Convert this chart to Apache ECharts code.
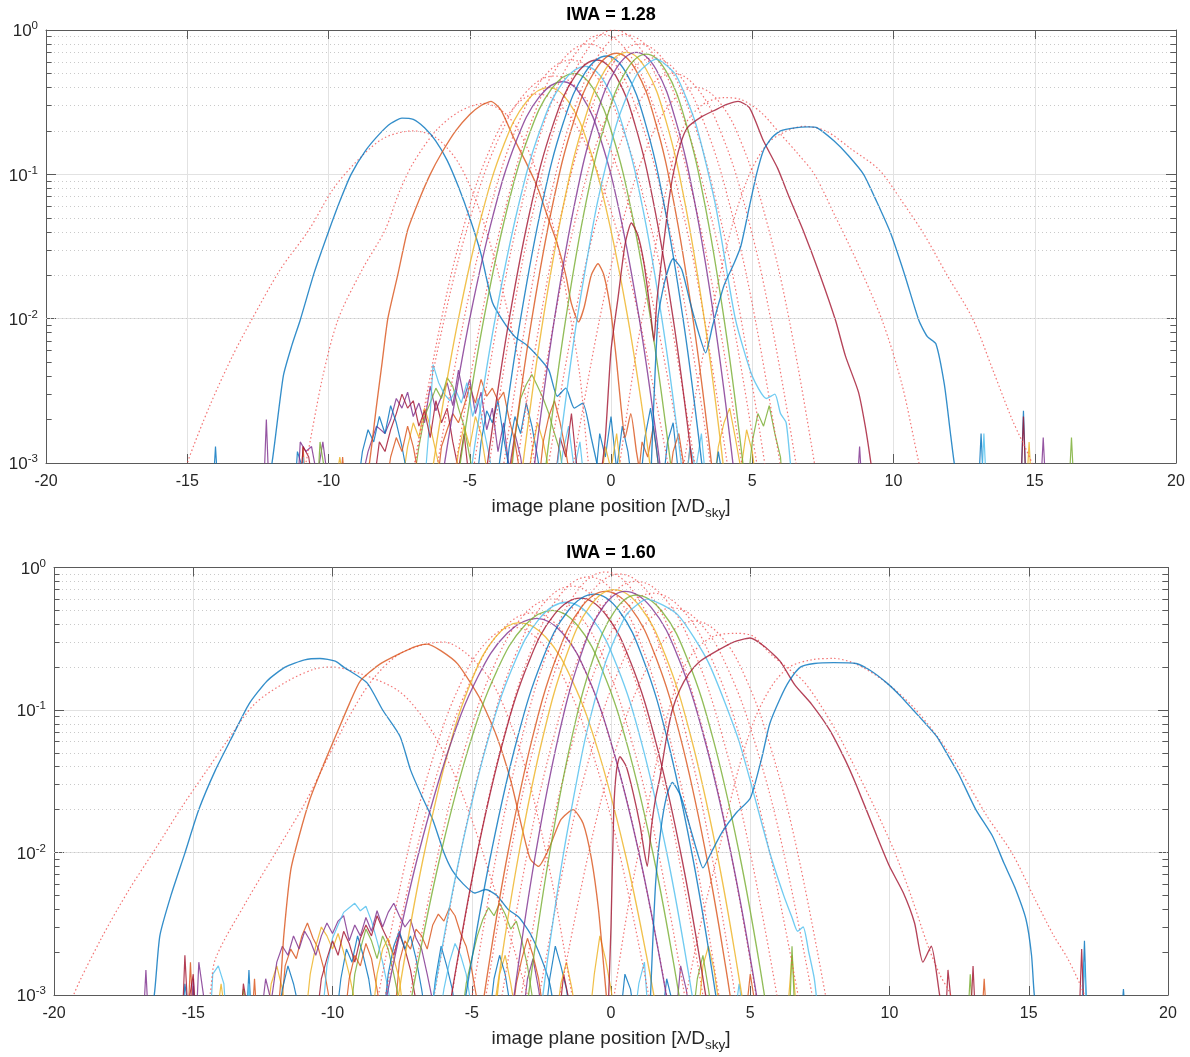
<!DOCTYPE html>
<html>
<head>
<meta charset="utf-8">
<script src="https://cdn.jsdelivr.net/npm/echarts@6/dist/echarts.min.js"></script>
<style>
  html, body { margin: 0; padding: 0; background: #ffffff; }
  #chart { width: 1190px; height: 1057px; }
</style>
</head>
<body>
<div id="chart"></div>
<script>
// ---------------------------------------------------------------
// Axis ranges and labels
// ---------------------------------------------------------------
const xRange = [-20, 20];
const yRange = [0.001, 1];
const yMinorTicks = [0.002, 0.003, 0.004, 0.005, 0.006, 0.007, 0.008, 0.009,
                     0.02, 0.03, 0.04, 0.05, 0.06, 0.07, 0.08, 0.09,
                     0.2, 0.3, 0.4, 0.5, 0.6, 0.7, 0.8, 0.9];
const panelTitles = ['IWA = 1.28', 'IWA = 1.60'];
const xAxisTitle = ['image plane position [λ/D', 'sky', ']'];

// ---------------------------------------------------------------
// IWA = 1.28 : measured PSF cuts (solid), one per source offset
// ---------------------------------------------------------------
const iwa128Solid = [
  [[-12.2,0.0007],[-12.0,0.001],[-11.6,0.004],[-11.3,0.0065],[-11.0,0.0098],[-10.5,0.021],[-10.0,0.04],[-9.6,0.065],[-9.2,0.1],[-8.7,0.145],[-8.2,0.19],[-7.8,0.225],[-7.4,0.245],[-7.0,0.24],[-6.6,0.21],[-6.2,0.17],[-5.8,0.125],[-5.4,0.082],[-5.0,0.05],[-4.6,0.028],[-4.2,0.013],[-3.8,0.0095],[-3.4,0.0075],[-3.0,0.0066],[-2.6,0.0055],[-2.2,0.0044],[-1.9,0.0029],[-1.6,0.0033],[-1.3,0.0024],[-1.0,0.0026],[-0.7,0.0015],[-0.5,0.001],[-0.3,0.0007]],
  [[-8.7,0.0007],[-8.55,0.001],[-8.3,0.0025],[-8.1,0.005],[-7.9,0.01],[-7.55,0.02],[-7.2,0.041],[-6.8,0.066],[-6.4,0.1],[-6.0,0.14],[-5.5,0.2],[-5.0,0.26],[-4.6,0.3],[-4.25,0.32],[-3.9,0.28],[-3.45,0.18],[-3.0,0.12],[-2.6,0.081],[-2.2,0.048],[-1.9,0.033],[-1.6,0.02],[-1.4,0.0127],[-1.15,0.0095],[-0.95,0.012],[-0.7,0.02],[-0.46,0.024],[-0.25,0.02],[0.0,0.011],[0.2,0.005],[0.35,0.0025],[0.5,0.0015],[0.7,0.0022],[0.9,0.0012],[1.1,0.0007]],
  [[-6.52,0.00048],[-6.04,0.002],[-5.4,0.01],[-4.6,0.05],[-3.8,0.159],[-3.0,0.318],[-2.2,0.40],[-1.5,0.318],[-0.8,0.159],[-0.1,0.05],[0.6,0.01],[1.16,0.002],[1.58,0.00048]],
  [[-6.16,0.00045],[-5.66,0.0019],[-5.0,0.01],[-4.175,0.052],[-3.35,0.171],[-2.525,0.347],[-1.7,0.44],[-1.025,0.347],[-0.35,0.171],[0.325,0.052],[1.0,0.01],[1.54,0.0019],[1.945,0.00045]],
  [[-5.62,0.0004],[-5.14,0.0018],[-4.5,0.01],[-3.7,0.0553],[-2.9,0.188],[-2.1,0.392],[-1.3,0.5],[-0.625,0.392],[0.05,0.188],[0.725,0.0553],[1.4,0.01],[1.94,0.0018],[2.345,0.0004]],
  [[-5.22,0.00036],[-4.74,0.0017],[-4.1,0.01],[-3.3,0.058],[-2.5,0.205],[-1.7,0.435],[-0.9,0.56],[-0.225,0.435],[0.45,0.205],[1.125,0.058],[1.8,0.01],[2.34,0.0017],[2.745,0.00036]],
  [[-4.685,0.00034],[-4.22,0.00163],[-3.6,0.01],[-2.825,0.0608],[-2.05,0.221],[-1.275,0.479],[-0.5,0.62],[0.175,0.479],[0.85,0.221],[1.525,0.0608],[2.2,0.01],[2.74,0.00163],[3.145,0.00034]],
  [[-4.27,0.00032],[-3.81,0.00158],[-3.2,0.01],[-2.4375,0.0625],[-1.675,0.232],[-0.9125,0.508],[-0.15,0.66],[0.525,0.508],[1.2,0.232],[1.875,0.0625],[2.55,0.01],[3.09,0.00158],[3.495,0.00032]],
  [[-3.85,0.0003],[-3.4,0.00155],[-2.8,0.01],[-2.05,0.0638],[-1.3,0.239],[-0.55,0.53],[0.2,0.69],[0.875,0.53],[1.55,0.239],[2.225,0.0638],[2.9,0.01],[3.44,0.00155],[3.845,0.0003]],
  [[-3.43,0.0003],[-2.99,0.00154],[-2.4,0.01],[-1.6625,0.0641],[-0.925,0.242],[-0.1875,0.537],[0.55,0.70],[1.2375,0.537],[1.925,0.242],[2.6125,0.0641],[3.3,0.01],[3.85,0.00154],[4.26,0.0003]],
  [[-3.015,0.0003],[-2.58,0.00154],[-2.0,0.01],[-1.275,0.0641],[-0.55,0.242],[0.175,0.537],[0.9,0.70],[1.5875,0.537],[2.275,0.242],[2.9625,0.0641],[3.65,0.01],[4.2,0.00154],[4.61,0.0003]],
  [[-2.6,0.0003],[-2.17,0.00156],[-1.6,0.01],[-0.8875,0.0634],[-0.175,0.237],[0.5375,0.523],[1.25,0.68],[1.9375,0.523],[2.625,0.237],[3.3125,0.0634],[4.0,0.01],[4.55,0.00156],[4.96,0.0003]],
  [[-2.18,0.00034],[-1.76,0.0016],[-1.2,0.01],[-0.5,0.0612],[0.2,0.224],[0.9,0.486],[1.6,0.63],[2.3,0.486],[3.0,0.224],[3.7,0.0612],[4.4,0.01],[5.0,0.004],[5.5,0.0028],[5.8,0.003],[6.0,0.0022],[6.2,0.0019],[6.35,0.001],[6.45,0.0007]],
  [[-0.4,0.0007],[-0.2,0.0015],[0.0,0.006],[0.25,0.014],[0.5,0.033],[0.72,0.046],[0.95,0.038],[1.17,0.024],[1.4,0.011],[1.52,0.007],[1.62,0.013],[1.75,0.022],[1.9,0.038],[2.05,0.066],[2.2,0.1],[2.45,0.16],[2.7,0.21],[3.2,0.25],[3.7,0.28],[4.1,0.305],[4.5,0.32],[4.9,0.29],[5.4,0.17],[5.9,0.11],[6.3,0.07],[6.8,0.041],[7.4,0.02],[7.95,0.0097],[8.3,0.0055],[8.76,0.0031],[9.0,0.0018],[9.2,0.001],[9.3,0.0007]],
  [[1.4,0.0007],[1.66,0.01],[1.9,0.018],[2.2,0.026],[2.5,0.022],[2.8,0.013],[3.1,0.008],[3.35,0.0058],[3.6,0.009],[4.0,0.017],[4.35,0.024],[4.6,0.032],[4.9,0.06],[5.15,0.1],[5.4,0.147],[5.7,0.18],[6.0,0.2],[6.5,0.21],[7.0,0.213],[7.3,0.21],[7.9,0.17],[8.4,0.135],[8.94,0.1],[9.4,0.065],[9.9,0.039],[10.4,0.02],[10.9,0.0097],[11.2,0.0075],[11.5,0.0067],[11.8,0.0035],[12.0,0.0017],[12.15,0.001],[12.3,0.0007]]
];

// IWA = 1.28 : model PSF cuts (dotted)
const iwa128Dotted = [
  [[-15.2,0.0007],[-15.0,0.001],[-14.2,0.0025],[-13.4,0.0055],[-12.7,0.01],[-11.7,0.022],[-10.7,0.041],[-9.8,0.081],[-8.8,0.135],[-8.0,0.18],[-7.0,0.2],[-6.2,0.18],[-5.4,0.12],[-4.7,0.06],[-4.1,0.025],[-3.6,0.01],[-3.1,0.0035],[-2.7,0.001],[-2.5,0.0006]],
  [[-11.0,0.0007],[-10.8,0.001],[-10.2,0.004],[-9.65,0.01],[-8.8,0.022],[-8.0,0.041],[-7.5,0.075],[-7.0,0.12],[-6.2,0.2],[-5.4,0.27],[-4.5,0.31],[-3.8,0.27],[-3.2,0.19],[-2.6,0.1],[-2.0,0.04],[-1.5,0.012],[-1.1,0.004],[-0.8,0.001],[-0.6,0.0006]],
  [[-7.02,0.00084],[-6.0,0.01],[-5.15,0.048],[-4.3,0.147],[-3.45,0.288],[-2.6,0.36],[-1.7,0.288],[-0.8,0.147],[0.1,0.048],[1.0,0.01],[2.08,0.00084]],
  [[-7.07,0.0007],[-5.9,0.01],[-4.925,0.0543],[-3.95,0.182],[-2.975,0.377],[-2.0,0.48],[-1.1,0.377],[-0.2,0.182],[0.7,0.0543],[1.6,0.01],[2.68,0.0007]],
  [[-6.34,0.00058],[-5.2,0.01],[-4.25,0.0608],[-3.3,0.221],[-2.35,0.479],[-1.4,0.62],[-0.525,0.479],[0.35,0.221],[1.225,0.0608],[2.1,0.01],[3.15,0.00058]],
  [[-5.74,0.00049],[-4.6,0.01],[-3.65,0.068],[-2.7,0.267],[-1.75,0.608],[-0.8,0.80],[0.075,0.608],[0.95,0.267],[1.825,0.068],[2.7,0.01],[3.75,0.00049]],
  [[-5.11,0.00044],[-4.0,0.01],[-3.075,0.0726],[-2.15,0.299],[-1.225,0.70],[-0.3,0.93],[0.6,0.70],[1.5,0.299],[2.4,0.0726],[3.3,0.01],[4.38,0.00044]],
  [[-4.58,0.00042],[-3.5,0.01],[-2.6,0.075],[-1.7,0.316],[-0.8,0.75],[0.1,1.0],[1.025,0.75],[1.95,0.316],[2.875,0.075],[3.8,0.01],[4.91,0.00042]],
  [[-4.05,0.00044],[-3.0,0.01],[-2.125,0.0726],[-1.25,0.299],[-0.375,0.70],[0.5,0.93],[1.45,0.70],[2.4,0.299],[3.35,0.0726],[4.3,0.01],[5.44,0.00044]],
  [[-3.55,0.00049],[-2.5,0.01],[-1.625,0.068],[-0.75,0.267],[0.125,0.608],[1.0,0.80],[1.9,0.608],[2.8,0.267],[3.7,0.068],[4.6,0.01],[5.68,0.00049]],
  [[-3.05,0.00057],[-2.0,0.01],[-1.125,0.0617],[-0.25,0.226],[0.625,0.493],[1.5,0.64],[2.4,0.493],[3.3,0.226],[4.2,0.0617],[5.1,0.01],[6.18,0.00057]],
  [[-2.35,0.00067],[-1.3,0.01],[-0.425,0.0553],[0.45,0.188],[1.325,0.392],[2.2,0.50],[3.06,0.392],[3.925,0.188],[4.79,0.0553],[5.65,0.01],[6.69,0.00067]],
  [[-1.42,0.00078],[-0.4,0.01],[0.45,0.050],[1.3,0.159],[2.15,0.318],[3.0,0.40],[3.825,0.318],[4.65,0.159],[5.475,0.050],[6.3,0.01],[7.29,0.00078]],
  [[0.2,0.0007],[0.9,0.006],[1.4,0.02],[1.9,0.07],[2.5,0.2],[3.2,0.3],[4.0,0.34],[4.6,0.33],[5.3,0.27],[6.0,0.19],[6.6,0.14],[7.2,0.1],[7.9,0.053],[8.7,0.025],[9.6,0.0097],[10.3,0.0035],[10.9,0.001],[11.1,0.0007]],
  [[2.5,0.0008],[3.0,0.003],[3.6,0.012],[4.3,0.045],[4.9,0.1],[5.5,0.16],[6.0,0.19],[6.8,0.215],[7.6,0.2],[8.5,0.15],[9.5,0.107],[10.3,0.065],[11.06,0.039],[11.9,0.02],[12.8,0.01],[13.5,0.0045],[14.2,0.002],[14.9,0.001],[15.1,0.0007]]
];

// IWA = 1.28 : residual speckle floor, traces take the line colours in order
const iwa128Floor = [
  [[-14.1,0.0006],[-14.0,0.0013],[-13.9,0.0006],[-11.2,0.0006],[-11.1,0.0012],[-10.9,0.0009],[-10.7,0.0006],[-3.8,0.0006],[-3.6,0.0013],[-3.4,0.0021],[-3.2,0.0016],[-3.0,0.0026],[-2.8,0.0018],[-2.6,0.0011],[-2.4,0.0006],[-0.6,0.0006],[-0.4,0.0016],[-0.2,0.0011],[0.0,0.0021],[0.2,0.0009],[0.4,0.0018],[0.6,0.0012],[0.8,0.0006],[1.8,0.0006],[2.0,0.0014],[2.2,0.0019],[2.4,0.0008],[2.6,0.0006],[13.0,0.0006],[13.1,0.0016],[13.2,0.0006],[14.5,0.0006],[14.6,0.0023],[14.7,0.0006]],
  [[-11.0,0.0006],[-10.9,0.0013],[-10.8,0.0006],[-9.6,0.0006],[-9.5,0.0011],[-9.4,0.0006],[-6.2,0.0006],[-6.0,0.0013],[-5.8,0.0017],[-5.6,0.0022],[-5.4,0.0019],[-5.2,0.0025],[-5.0,0.0034],[-4.8,0.0026],[-4.6,0.0038],[-4.4,0.0029],[-4.2,0.0033],[-4.0,0.0027],[-3.8,0.0031],[-3.6,0.002],[-3.4,0.0014],[-3.2,0.0008],[0.9,0.0006],[1.1,0.0014],[1.3,0.0011],[1.5,0.0018],[1.7,0.0009],[1.9,0.0006],[2.6,0.0006],[2.8,0.0013],[3.0,0.0006]],
  [[-9.8,0.0006],[-9.6,0.0011],[-9.4,0.0006],[-7.4,0.0007],[-7.2,0.0013],[-7.0,0.0019],[-6.8,0.0015],[-6.6,0.0024],[-6.4,0.0018],[-6.2,0.0012],[-6.0,0.0008],[-3.0,0.0006],[-2.8,0.0012],[-2.6,0.0019],[-2.4,0.0014],[-2.2,0.0009],[-2.0,0.0006],[3.6,0.0006],[3.8,0.0013],[4.0,0.0019],[4.2,0.0024],[4.4,0.0015],[4.6,0.0009],[4.8,0.0017],[5.0,0.0012],[5.2,0.0006],[14.7,0.0006],[14.8,0.0014],[14.9,0.0006]],
  [[-12.3,0.0006],[-12.2,0.002],[-12.1,0.0006],[-11.1,0.0006],[-11.0,0.0014],[-10.8,0.0012],[-10.6,0.0013],[-10.4,0.0008],[-10.2,0.0014],[-10.0,0.0007],[-8.8,0.0008],[-8.6,0.0012],[-8.3,0.0018],[-8.0,0.0016],[-7.8,0.002],[-7.6,0.0028],[-7.4,0.0024],[-7.2,0.0031],[-7.0,0.0021],[-6.8,0.0026],[-6.6,0.0019],[-6.4,0.0034],[-6.2,0.0023],[-6.0,0.0029],[-5.8,0.0036],[-5.6,0.0025],[-5.4,0.0044],[-5.2,0.0028],[-5.0,0.0038],[-4.8,0.0022],[-4.6,0.0031],[-4.4,0.0017],[-4.2,0.0024],[-4.0,0.0012],[-3.8,0.0019],[-3.6,0.0009],[-3.4,0.0016],[-3.2,0.0011],[-3.0,0.0006],[8.7,0.0006],[8.8,0.0013],[8.9,0.0006],[15.2,0.0006],[15.3,0.0015],[15.4,0.0006]],
  [[-10.4,0.0006],[-10.3,0.0014],[-10.1,0.0008],[-9.8,0.0006],[-7.0,0.0007],[-6.8,0.0013],[-6.6,0.0021],[-6.4,0.0026],[-6.2,0.0033],[-6.0,0.0028],[-5.8,0.0039],[-5.6,0.0034],[-5.4,0.0024],[-5.2,0.0018],[-5.0,0.0011],[-4.8,0.0007],[-3.6,0.0006],[-3.4,0.0015],[-3.2,0.0028],[-3.0,0.0035],[-2.8,0.0041],[-2.6,0.0034],[-2.4,0.0028],[-2.2,0.0022],[-2.0,0.0016],[-1.8,0.0012],[-1.6,0.0006],[4.8,0.0006],[5.0,0.0014],[5.2,0.0022],[5.4,0.0018],[5.6,0.0025],[5.8,0.0016],[6.0,0.0011],[6.1,0.0006],[16.2,0.0006],[16.3,0.0015],[16.4,0.0006]],
  [[-11.0,0.0006],[-10.9,0.0011],[-10.8,0.0006],[-6.6,0.0007],[-6.4,0.0022],[-6.3,0.0048],[-6.1,0.0036],[-5.9,0.003],[-5.7,0.0027],[-5.5,0.0032],[-5.3,0.0026],[-5.1,0.0036],[-4.9,0.0021],[-4.7,0.0028],[-4.5,0.0017],[-4.3,0.0011],[-4.1,0.0006],[-1.9,0.0006],[-1.7,0.0012],[-1.5,0.0018],[-1.3,0.0009],[-1.1,0.0014],[-0.9,0.0006],[2.6,0.0006],[2.8,0.0013],[3.0,0.0009],[3.2,0.0016],[3.4,0.0006],[13.1,0.0006],[13.2,0.0016],[13.3,0.0006]],
  [[-11.0,0.0006],[-10.9,0.0013],[-10.7,0.0011],[-10.5,0.0006],[-8.4,0.0007],[-8.2,0.0014],[-8.0,0.0012],[-7.8,0.0017],[-7.6,0.0022],[-7.4,0.003],[-7.2,0.0024],[-7.0,0.0027],[-6.8,0.0018],[-6.6,0.0023],[-6.4,0.0015],[-6.2,0.0027],[-6.0,0.0019],[-5.8,0.0024],[-5.6,0.0014],[-5.4,0.0009],[-5.2,0.0016],[-5.0,0.0007],[-2.0,0.0007],[-1.8,0.0015],[-1.6,0.0011],[-1.4,0.0022],[-1.2,0.0009],[-1.0,0.0006],[14.5,0.0006],[14.6,0.0021],[14.7,0.0006]],
  [[-9.0,0.0006],[-8.8,0.0012],[-8.6,0.0017],[-8.4,0.0014],[-8.2,0.0021],[-8.0,0.0016],[-7.8,0.0025],[-7.6,0.0019],[-7.4,0.0013],[-7.2,0.0008],[-4.8,0.0006],[-4.6,0.0014],[-4.4,0.0023],[-4.2,0.0019],[-4.0,0.0027],[-3.8,0.0015],[-3.6,0.0009],[-3.4,0.0006],[1.0,0.0006],[1.2,0.0015],[1.4,0.0024],[1.6,0.0013],[1.8,0.0006],[3.6,0.0006],[3.8,0.0012],[4.0,0.0007]],
  [[-8.0,0.0006],[-7.8,0.0011],[-7.6,0.0015],[-7.4,0.0012],[-7.2,0.0018],[-7.0,0.0013],[-6.8,0.0008],[-2.6,0.0006],[-2.4,0.0014],[-2.2,0.0021],[-2.0,0.0027],[-1.8,0.0019],[-1.6,0.0012],[-1.4,0.0007],[2.0,0.0006],[2.2,0.0012],[2.4,0.0016],[2.6,0.0009],[2.8,0.0006]],
  [[-5.6,0.0006],[-5.4,0.0012],[-5.2,0.0018],[-5.0,0.0013],[-4.8,0.0021],[-4.6,0.0016],[-4.4,0.0009],[-4.2,0.0006],[-0.4,0.0006],[-0.2,0.0013],[0.0,0.0009],[0.2,0.0016],[0.4,0.0007]]
];

// ---------------------------------------------------------------
// IWA = 1.60 : measured PSF cuts (solid)
// ---------------------------------------------------------------
const iwa160Solid = [
  [[-16.6,0.0007],[-16.4,0.001],[-16.2,0.0026],[-15.8,0.005],[-15.3,0.0099],[-14.8,0.02],[-14.2,0.038],[-13.6,0.065],[-13.0,0.11],[-12.35,0.16],[-11.7,0.2],[-11.0,0.225],[-10.45,0.23],[-9.9,0.22],[-9.6,0.2],[-8.76,0.155],[-8.2,0.1],[-7.57,0.065],[-7.2,0.038],[-6.8,0.025],[-6.4,0.017],[-6.0,0.01],[-5.7,0.0075],[-5.3,0.006],[-4.9,0.0052],[-4.5,0.0055],[-4.1,0.005],[-3.7,0.004],[-3.3,0.0035],[-2.9,0.0027],[-2.5,0.0018],[-2.2,0.0012],[-2.0,0.0007]],
  [[-12.1,0.0007],[-11.9,0.001],[-11.75,0.0026],[-11.5,0.0075],[-11.2,0.013],[-10.8,0.024],[-10.4,0.038],[-9.8,0.072],[-9.4,0.11],[-9.0,0.16],[-8.3,0.21],[-7.57,0.25],[-7.0,0.28],[-6.6,0.29],[-6.1,0.26],[-5.5,0.21],[-4.7,0.12],[-4.1,0.065],[-3.6,0.032],[-3.2,0.015],[-2.9,0.009],[-2.6,0.008],[-2.2,0.011],[-1.8,0.017],[-1.36,0.02],[-1.0,0.016],[-0.7,0.009],[-0.45,0.004],[-0.25,0.0015],[-0.1,0.0007]],
  [[-7.89,0.00047],[-7.38,0.00195],[-6.7,0.01],[-5.85,0.0508],[-5.0,0.162],[-4.15,0.325],[-3.3,0.41],[-2.35,0.325],[-1.4,0.162],[-0.45,0.0508],[0.5,0.01],[1.26,0.00195],[1.83,0.00047]],
  [[-8.38,0.00045],[-7.75,0.0019],[-6.9,0.01],[-5.84,0.052],[-4.78,0.171],[-3.72,0.347],[-2.66,0.44],[-1.745,0.347],[-0.83,0.171],[0.085,0.052],[1.0,0.01],[1.73,0.0019],[2.28,0.00045]],
  [[-7.5,0.0004],[-6.9,0.0018],[-6.1,0.01],[-5.1,0.0553],[-4.1,0.188],[-3.1,0.392],[-2.1,0.5],[-1.2,0.392],[-0.3,0.188],[0.6,0.0553],[1.5,0.01],[2.22,0.0018],[2.76,0.0004]],
  [[-6.73,0.00036],[-6.16,0.00169],[-5.4,0.01],[-4.45,0.0586],[-3.5,0.207],[-2.55,0.443],[-1.6,0.57],[-0.7,0.443],[0.2,0.207],[1.1,0.0586],[2.0,0.01],[2.72,0.00169],[3.26,0.00036]],
  [[-6.1,0.00034],[-5.54,0.00164],[-4.8,0.01],[-3.875,0.0604],[-2.95,0.218],[-2.025,0.471],[-1.1,0.61],[-0.2,0.471],[0.7,0.218],[1.6,0.0604],[2.5,0.01],[3.22,0.00164],[3.76,0.00034]],
  [[-5.6,0.00032],[-5.04,0.00159],[-4.3,0.01],[-3.375,0.0621],[-2.45,0.229],[-1.525,0.501],[-0.6,0.65],[0.275,0.501],[1.15,0.229],[2.025,0.0621],[2.9,0.01],[3.6,0.00159],[4.13,0.00032]],
  [[-4.93,0.0003],[-4.4,0.00156],[-3.7,0.01],[-2.825,0.0634],[-1.95,0.237],[-1.075,0.523],[-0.2,0.68],[0.7,0.523],[1.6,0.237],[2.5,0.0634],[3.4,0.01],[4.12,0.00156],[4.66,0.0003]],
  [[-4.49,0.0003],[-3.98,0.00154],[-3.3,0.01],[-2.45,0.0641],[-1.6,0.242],[-0.75,0.537],[0.1,0.70],[1.025,0.537],[1.95,0.242],[2.875,0.0641],[3.8,0.01],[4.54,0.00154],[5.1,0.0003]],
  [[-3.82,0.0003],[-3.34,0.00156],[-2.7,0.01],[-1.9,0.0634],[-1.1,0.237],[-0.3,0.523],[0.5,0.68],[1.45,0.523],[2.4,0.237],[3.35,0.0634],[4.3,0.01],[5.06,0.00156],[5.63,0.0003]],
  [[-3.29,0.0003],[-2.82,0.0016],[-2.2,0.01],[-1.425,0.0617],[-0.65,0.226],[0.125,0.493],[0.9,0.64],[1.825,0.493],[2.75,0.226],[3.675,0.0617],[4.6,0.01],[5.34,0.0016],[5.9,0.0003]],
  [[-2.75,0.00034],[-2.3,0.00165],[-1.7,0.01],[-0.95,0.06],[-0.2,0.215],[0.55,0.465],[1.3,0.6],[2.4,0.465],[3.5,0.215],[4.6,0.06],[5.7,0.01],[6.2,0.005],[6.5,0.0035],[6.7,0.0028],[6.9,0.003],[7.1,0.002],[7.3,0.0013],[7.45,0.0007]],
  [[-0.1,0.0008],[0.0,0.003],[0.1,0.02],[0.2,0.038],[0.32,0.047],[0.55,0.04],[0.8,0.026],[1.04,0.0156],[1.2,0.01],[1.3,0.008],[1.45,0.015],[1.6,0.024],[1.76,0.034],[2.0,0.065],[2.2,0.1],[2.48,0.14],[2.8,0.18],[3.2,0.22],[3.8,0.26],[4.4,0.3],[4.99,0.32],[5.5,0.28],[6.07,0.22],[6.6,0.15],[7.2,0.11],[7.86,0.072],[8.4,0.045],[8.8,0.03],[9.55,0.013],[10.0,0.008],[10.5,0.0052],[10.9,0.0032],[11.2,0.0017],[11.5,0.0022],[11.8,0.001],[11.95,0.0007]],
  [[1.4,0.0008],[1.6,0.006],[1.8,0.015],[2.0,0.025],[2.2,0.031],[2.5,0.025],[2.8,0.016],[3.1,0.01],[3.3,0.0078],[3.6,0.01],[4.0,0.014],[4.5,0.019],[5.0,0.024],[5.4,0.045],[5.7,0.08],[6.07,0.12],[6.4,0.16],[6.8,0.2],[7.3,0.212],[8.0,0.215],[8.8,0.212],[9.3,0.19],[9.9,0.155],[10.4,0.125],[10.85,0.1],[11.3,0.08],[11.7,0.065],[12.1,0.048],[12.5,0.035],[13.1,0.02],[13.7,0.013],[14.1,0.0085],[14.5,0.0057],[14.9,0.0034],[15.1,0.0019],[15.2,0.001],[15.35,0.0007]]
];

// IWA = 1.60 : model PSF cuts (dotted)
const iwa160Dotted = [
  [[-19.5,0.0007],[-19.3,0.001],[-18.3,0.0025],[-17.3,0.0055],[-16.4,0.0103],[-15.4,0.021],[-14.5,0.038],[-13.8,0.06],[-12.8,0.11],[-11.6,0.16],[-10.6,0.195],[-10.0,0.2],[-9.0,0.18],[-7.6,0.135],[-6.6,0.08],[-5.7,0.038],[-4.9,0.015],[-4.3,0.0065],[-3.6,0.0025],[-3.0,0.001],[-2.8,0.0007]],
  [[-14.6,0.0007],[-14.4,0.001],[-14.2,0.0018],[-13.1,0.0045],[-12.0,0.0103],[-11.0,0.022],[-10.2,0.045],[-9.4,0.09],[-8.6,0.16],[-7.7,0.24],[-6.8,0.285],[-6.0,0.3],[-5.2,0.25],[-4.3,0.16],[-3.6,0.08],[-3.0,0.035],[-2.5,0.014],[-2.1,0.006],[-1.7,0.0022],[-1.4,0.001],[-1.2,0.0007]],
  [[-8.44,0.00081],[-7.3,0.01],[-6.35,0.049],[-5.4,0.153],[-4.45,0.303],[-3.5,0.38],[-2.55,0.303],[-1.6,0.153],[-0.65,0.049],[0.3,0.01],[1.44,0.00081]],
  [[-8.26,0.0007],[-7.0,0.01],[-5.95,0.0543],[-4.9,0.182],[-3.85,0.377],[-2.8,0.48],[-1.85,0.377],[-0.9,0.182],[0.05,0.0543],[1.0,0.01],[2.14,0.0007]],
  [[-7.43,0.00059],[-6.2,0.01],[-5.175,0.06],[-4.15,0.215],[-3.125,0.465],[-2.1,0.60],[-1.15,0.465],[-0.2,0.215],[0.75,0.06],[1.7,0.01],[2.84,0.00059]],
  [[-6.6,0.00051],[-5.4,0.01],[-4.4,0.0658],[-3.4,0.252],[-2.4,0.565],[-1.4,0.74],[-0.45,0.565],[0.5,0.252],[1.45,0.0658],[2.4,0.01],[3.54,0.00051]],
  [[-6.0,0.00046],[-4.8,0.01],[-3.8,0.0702],[-2.8,0.282],[-1.8,0.651],[-0.8,0.86],[0.15,0.651],[1.1,0.282],[2.05,0.0702],[3.0,0.01],[4.14,0.00046]],
  [[-5.27,0.00044],[-4.1,0.01],[-3.125,0.0726],[-2.15,0.299],[-1.175,0.70],[-0.2,0.93],[0.75,0.70],[1.7,0.299],[2.65,0.0726],[3.6,0.01],[4.74,0.00044]],
  [[-4.77,0.00045],[-3.6,0.01],[-2.625,0.0716],[-1.65,0.292],[-0.675,0.679],[0.3,0.90],[1.3,0.679],[2.3,0.292],[3.3,0.0716],[4.3,0.01],[5.5,0.00045]],
  [[-4.17,0.00049],[-3.0,0.01],[-2.025,0.068],[-1.05,0.267],[-0.075,0.608],[0.9,0.80],[1.925,0.608],[2.95,0.267],[3.975,0.068],[5.0,0.01],[6.23,0.00049]],
  [[-3.44,0.00055],[-2.3,0.01],[-1.35,0.0625],[-0.4,0.232],[0.55,0.508],[1.5,0.66],[2.55,0.508],[3.6,0.232],[4.65,0.0625],[5.7,0.01],[6.96,0.00055]],
  [[-2.74,0.00065],[-1.6,0.01],[-0.65,0.0564],[0.3,0.194],[1.25,0.406],[2.2,0.52],[3.2,0.406],[4.2,0.194],[5.2,0.0564],[6.2,0.01],[7.4,0.00065]],
  [[-1.94,0.00076],[-0.8,0.01],[0.15,0.0513],[1.1,0.165],[2.05,0.333],[3.0,0.42],[3.925,0.333],[4.85,0.165],[5.775,0.0513],[6.7,0.01],[7.81,0.00076]],
  [[0.0,0.0007],[0.6,0.004],[1.2,0.016],[1.8,0.06],[2.4,0.16],[3.0,0.26],[3.7,0.33],[4.5,0.345],[5.1,0.33],[5.7,0.25],[6.3,0.2],[6.9,0.16],[7.5,0.11],[8.2,0.065],[8.8,0.038],[9.5,0.02],[10.2,0.0099],[10.8,0.0048],[11.35,0.0023],[11.8,0.0014],[12.2,0.001],[12.4,0.0007]],
  [[2.6,0.0008],[3.2,0.003],[3.9,0.011],[4.6,0.04],[5.2,0.09],[5.8,0.15],[6.4,0.2],[7.2,0.225],[8.0,0.23],[8.8,0.21],[9.8,0.16],[10.85,0.105],[11.8,0.062],[12.6,0.036],[13.5,0.018],[14.4,0.0099],[15.2,0.0048],[15.9,0.0026],[16.4,0.0018],[17.0,0.001],[17.2,0.0007]]
];

// IWA = 1.60 : residual speckle floor, traces take the line colours in order
const iwa160Floor = [
  [[-15.4,0.0006],[-15.3,0.0012],[-15.1,0.0006],[-13.1,0.0006],[-13.0,0.0015],[-12.9,0.0006],[-9.9,0.0006],[-9.7,0.0013],[-9.5,0.0021],[-9.3,0.0017],[-9.1,0.0026],[-8.9,0.0019],[-8.7,0.0013],[-8.5,0.0007],[-6.5,0.0006],[-6.3,0.0013],[-6.1,0.0022],[-5.9,0.0016],[-5.7,0.0011],[-5.5,0.0006],[-2.4,0.0006],[-2.2,0.0013],[-2.0,0.0022],[-1.8,0.0016],[-1.6,0.0011],[-1.4,0.0006],[0.3,0.0006],[0.5,0.0014],[0.7,0.0011],[0.9,0.0006],[16.9,0.0006],[17.0,0.0024],[17.1,0.0006],[18.3,0.0006],[18.4,0.0011],[18.5,0.0006]],
  [[-15.2,0.0006],[-15.1,0.0017],[-15.0,0.0006],[-12.9,0.0006],[-12.8,0.0013],[-12.7,0.0006],[-11.9,0.0006],[-11.7,0.0016],[-11.5,0.0021],[-11.3,0.0018],[-11.1,0.0026],[-10.9,0.0032],[-10.7,0.0025],[-10.5,0.0021],[-10.3,0.0015],[-10.1,0.0009],[-9.9,0.0006],[-7.8,0.0006],[-7.6,0.0017],[-7.4,0.0024],[-7.2,0.0021],[-7.0,0.0029],[-6.8,0.0026],[-6.6,0.0021],[-6.4,0.0031],[-6.2,0.0037],[-6.0,0.0033],[-5.8,0.0041],[-5.6,0.0036],[-5.4,0.0027],[-5.2,0.0022],[-5.0,0.0015],[-4.8,0.0009],[-4.6,0.0006],[13.3,0.0006],[13.4,0.0013],[13.5,0.0006]],
  [[-14.2,0.0006],[-14.0,0.0012],[-13.8,0.0006],[-12.4,0.0006],[-12.2,0.0012],[-12.0,0.0016],[-11.8,0.0011],[-11.6,0.0006],[-11.0,0.0006],[-10.8,0.0014],[-10.6,0.0022],[-10.4,0.003],[-10.2,0.0026],[-10.0,0.0021],[-9.8,0.0027],[-9.6,0.002],[-9.4,0.0014],[-9.2,0.0009],[-9.0,0.0006],[-4.2,0.0006],[-4.0,0.0014],[-3.8,0.0019],[-3.6,0.0012],[-3.4,0.0007],[-0.8,0.0006],[-0.6,0.0014],[-0.4,0.0026],[-0.2,0.0018],[0.0,0.0011],[0.2,0.0006],[3.1,0.0006],[3.3,0.0016],[3.5,0.0022],[3.7,0.0015],[3.9,0.0008],[6.3,0.0006],[6.5,0.0019],[6.7,0.0006]],
  [[-16.8,0.0006],[-16.7,0.0015],[-16.6,0.0006],[-15.1,0.0006],[-15.0,0.0013],[-14.9,0.0006],[-14.8,0.0017],[-14.6,0.0009],[-14.5,0.0006],[-12.6,0.0006],[-12.4,0.0013],[-12.2,0.0009],[-12.0,0.0017],[-11.8,0.0022],[-11.6,0.0019],[-11.4,0.0026],[-11.2,0.0021],[-11.0,0.0028],[-10.8,0.0024],[-10.6,0.0019],[-10.4,0.0026],[-10.2,0.0032],[-10.0,0.0027],[-9.8,0.0033],[-9.6,0.0036],[-9.4,0.0024],[-9.2,0.0031],[-9.0,0.0026],[-8.8,0.0035],[-8.6,0.0028],[-8.4,0.0039],[-8.2,0.003],[-8.0,0.0038],[-7.8,0.0044],[-7.6,0.0036],[-7.4,0.003],[-7.2,0.0034],[-7.0,0.0025],[-6.8,0.0021],[-6.6,0.0014],[-6.4,0.0009],[-6.2,0.0006],[-3.2,0.0006],[-3.0,0.0013],[-2.8,0.0018],[-2.6,0.0011],[-2.4,0.0006],[2.3,0.0006],[2.5,0.0016],[2.7,0.0011],[2.9,0.0006]],
  [[-13.4,0.0006],[-13.2,0.0011],[-13.0,0.0006],[-9.4,0.0006],[-9.2,0.0014],[-9.0,0.0021],[-8.8,0.0029],[-8.6,0.0024],[-8.4,0.0018],[-8.2,0.0026],[-8.0,0.0021],[-7.8,0.0014],[-7.6,0.0009],[-7.4,0.0006],[-5.4,0.0006],[-5.2,0.0012],[-5.0,0.0018],[-4.8,0.0026],[-4.6,0.0034],[-4.4,0.0041],[-4.2,0.0036],[-4.0,0.0044],[-3.8,0.0037],[-3.6,0.0029],[-3.4,0.0033],[-3.2,0.0024],[-3.0,0.0016],[-2.8,0.0009],[-2.6,0.0006],[2.9,0.0006],[3.1,0.0013],[3.3,0.0019],[3.5,0.0011],[3.7,0.0006],[6.4,0.0006],[6.5,0.0022],[6.6,0.0007],[12.8,0.0006],[12.9,0.0014],[13.0,0.0006]],
  [[-14.4,0.0006],[-14.3,0.0014],[-14.1,0.0016],[-13.9,0.0012],[-13.8,0.0006],[-13.1,0.0006],[-13.0,0.0012],[-12.9,0.0006],[-10.4,0.0006],[-10.2,0.0016],[-10.0,0.0025],[-9.8,0.0031],[-9.6,0.0038],[-9.4,0.0041],[-9.2,0.0044],[-9.0,0.0039],[-8.8,0.0042],[-8.6,0.0033],[-8.4,0.0024],[-8.2,0.0017],[-8.0,0.0011],[-7.8,0.0006],[-6.2,0.0006],[-6.0,0.0011],[-5.8,0.0017],[-5.6,0.0023],[-5.4,0.0019],[-5.2,0.0014],[-5.0,0.0008],[0.8,0.0006],[1.0,0.0012],[1.2,0.0017],[1.3,0.0009],[1.5,0.0006],[4.4,0.0006],[4.6,0.0012],[4.8,0.0006],[16.9,0.0006],[17.0,0.0017],[17.1,0.0006]],
  [[-15.4,0.0006],[-15.3,0.0019],[-15.2,0.0008],[-15.0,0.0014],[-14.9,0.0006],[-13.3,0.0006],[-13.2,0.0012],[-13.0,0.0007],[-10.6,0.0006],[-10.4,0.0013],[-10.2,0.0018],[-10.0,0.0024],[-9.8,0.0019],[-9.6,0.0028],[-9.4,0.0023],[-9.2,0.0017],[-9.0,0.0025],[-8.8,0.0031],[-8.6,0.0026],[-8.4,0.0036],[-8.2,0.0029],[-8.0,0.0024],[-7.8,0.0019],[-7.6,0.0027],[-7.4,0.0021],[-7.2,0.0015],[-7.0,0.0009],[-6.8,0.0006],[-1.9,0.0006],[-1.7,0.0014],[-1.5,0.0009],[-1.3,0.0006],[12.0,0.0006],[12.1,0.0015],[12.3,0.0006],[12.9,0.0006],[13.0,0.0016],[13.1,0.0006],[16.8,0.0006],[16.9,0.0021],[17.0,0.0006]],
  [[-12.0,0.0006],[-11.8,0.0011],[-11.6,0.0016],[-11.4,0.0012],[-11.2,0.0008],[-8.2,0.0006],[-8.0,0.0014],[-7.8,0.0022],[-7.6,0.0028],[-7.4,0.0021],[-7.2,0.0026],[-7.0,0.0018],[-6.8,0.0011],[-6.6,0.0006],[-4.4,0.0006],[-4.2,0.0013],[-4.0,0.0019],[-3.8,0.0014],[-3.6,0.0008],[1.8,0.0006],[2.0,0.0013],[2.2,0.0009],[2.4,0.0006]],
  [[-9.6,0.0006],[-9.4,0.0013],[-9.2,0.0019],[-9.0,0.0016],[-8.8,0.0023],[-8.6,0.0018],[-8.4,0.0011],[-8.2,0.0006],[-3.6,0.0006],[-3.4,0.0012],[-3.2,0.0018],[-3.0,0.0025],[-2.8,0.0019],[-2.6,0.0013],[-2.4,0.0007],[4.8,0.0006],[5.0,0.0014],[5.2,0.0008]],
  [[-8.6,0.0006],[-8.4,0.0014],[-8.2,0.0021],[-8.0,0.0025],[-7.8,0.0018],[-7.6,0.0013],[-7.4,0.0006],[-2.0,0.0006],[-1.8,0.0012],[-1.6,0.0017],[-1.4,0.0011],[-1.2,0.0006]]
];

// ---------------------------------------------------------------
// Styling
// ---------------------------------------------------------------
const FONT = '"Liberation Sans", Arial, Helvetica, sans-serif';
const lineColours = ['#0072BD', '#D95319', '#EDB120', '#7E2F8E', '#77AC30', '#4DBEEE', '#A2142F'];
const modelColour = '#f05050';
const axisColour = '#5a5a5a';
const textColour = '#262626';

const panels = [
  { left: 46, top: 30, width: 1130, height: 433, titleY: 15,
    solid: iwa128Solid, dotted: iwa128Dotted, floor: iwa128Floor },
  { left: 54, top: 567.5, width: 1114, height: 427.5, titleY: 553,
    solid: iwa160Solid, dotted: iwa160Dotted, floor: iwa160Floor }
];

function decadeLabel(v) {
  const e = Math.round(Math.log10(v));
  return '{b|10}{s|' + e + '}';
}

const option = {
  animation: false,
  backgroundColor: '#ffffff',
  textStyle: { fontFamily: FONT },
  grid: [], xAxis: [], yAxis: [], series: [], graphic: []
};

panels.forEach((p, g) => {
  option.grid.push({ left: p.left, top: p.top, width: p.width, height: p.height });

  const tickStyle = { color: axisColour, width: 1 };
  option.xAxis.push({
    type: 'value', gridIndex: g, position: 'bottom', min: xRange[0], max: xRange[1], interval: 5,
    axisLine: { show: true, onZero: false, lineStyle: { color: axisColour, width: 1 } },
    axisTick: { show: true, inside: true, length: 9, lineStyle: tickStyle },
    axisLabel: { show: true, margin: 11, fontSize: 16, color: textColour, fontFamily: FONT },
    splitLine: { show: true, lineStyle: { color: '#e2e2e2', width: 1 } },
    name: '{t|' + xAxisTitle[0] + '}{u|' + xAxisTitle[1] + '}{t|' + xAxisTitle[2] + '}',
    nameLocation: 'middle', nameGap: 34,
    nameTextStyle: { rich: {
      t: { fontSize: 19, color: textColour, fontFamily: FONT, verticalAlign: 'top' },
      u: { fontSize: 13.5, color: textColour, fontFamily: FONT, verticalAlign: 'top', padding: [9, 0, 0, 0] }
    } }
  });
  option.xAxis.push({
    type: 'value', gridIndex: g, position: 'top', min: xRange[0], max: xRange[1], interval: 5,
    axisLine: { show: true, onZero: false, lineStyle: { color: axisColour, width: 1 } },
    axisTick: { show: true, inside: true, length: 9, lineStyle: tickStyle },
    axisLabel: { show: false }, splitLine: { show: false }
  });
  option.yAxis.push({
    type: 'log', logBase: 10, gridIndex: g, position: 'left', min: yRange[0], max: yRange[1],
    axisLine: { show: true, onZero: false, lineStyle: { color: axisColour, width: 1 } },
    axisTick: { show: true, inside: true, length: 10, lineStyle: tickStyle },
    axisLabel: { show: true, margin: 8, formatter: decadeLabel, rich: {
      b: { fontSize: 17, color: textColour, fontFamily: FONT, verticalAlign: 'bottom' },
      s: { fontSize: 11.5, color: textColour, fontFamily: FONT, verticalAlign: 'bottom', padding: [0, 0, 8, 0] }
    } },
    splitLine: { show: true, lineStyle: { color: '#e2e2e2', width: 1 } }
  });
  option.yAxis.push({
    type: 'log', logBase: 10, gridIndex: g, position: 'right', min: yRange[0], max: yRange[1],
    axisLine: { show: true, onZero: false, lineStyle: { color: axisColour, width: 1 } },
    axisTick: { show: true, inside: true, length: 10, lineStyle: tickStyle },
    axisLabel: { show: false }, splitLine: { show: false }
  });

  const xi = 2 * g, yi = 2 * g;
  const minorLen = 0.2;
  const minorGrid = yMinorTicks.map(v => ({ yAxis: v,
    lineStyle: { type: [1, 3], color: '#c9c9c9', width: 1 } }));
  const minorTicksLeft = yMinorTicks.map(v => [
    { coord: [xRange[0], v], lineStyle: { type: 'solid', color: axisColour, width: 1 } },
    { coord: [xRange[0] + minorLen, v] }]);
  const minorTicksRight = yMinorTicks.map(v => [
    { coord: [xRange[1] - minorLen, v], lineStyle: { type: 'solid', color: axisColour, width: 1 } },
    { coord: [xRange[1], v] }]);

  // speckle floor traces
  p.floor.forEach((pts, i) => {
    const s = {
      type: 'line', xAxisIndex: xi, yAxisIndex: yi, data: pts, symbol: 'none', showSymbol: false,
      clip: true, silent: true, animation: false,
      lineStyle: { color: lineColours[i % lineColours.length], width: 1.2, opacity: 0.82 }
    };
    if (i === 0) {
      s.markLine = { silent: true, symbol: ['none', 'none'], animation: false, label: { show: false },
        data: [...minorGrid, ...minorTicksLeft, ...minorTicksRight] };
    }
    option.series.push(s);
  });

  // model curves (dotted red)
  p.dotted.forEach(pts => {
    option.series.push({
      type: 'line', xAxisIndex: xi, yAxisIndex: yi, data: pts, symbol: 'none', showSymbol: false,
      smooth: pts.length > 14 ? 0.3 : 0.4, clip: true, silent: true, animation: false,
      lineStyle: { color: modelColour, width: 1.2, type: [1.5, 2.5], opacity: 0.8 }
    });
  });

  // measured curves (solid, default line colour order)
  p.solid.forEach((pts, i) => {
    option.series.push({
      type: 'line', xAxisIndex: xi, yAxisIndex: yi, data: pts, symbol: 'none', showSymbol: false,
      smooth: pts.length > 15 ? 0.2 : 0.4, clip: true, silent: true, animation: false,
      lineStyle: { color: lineColours[i % lineColours.length], width: 1.35, opacity: 0.8 }
    });
  });

  option.graphic.push({
    type: 'text', x: p.left + p.width / 2, y: p.titleY,
    style: { text: panelTitles[g], fontSize: 18, fontWeight: 'bold', fontFamily: FONT, fill: '#000000',
             align: 'center', verticalAlign: 'middle', textAlign: 'center', textVerticalAlign: 'middle' }
  });
});

const chart = echarts.init(document.getElementById('chart'), null, { renderer: 'canvas' });
chart.setOption(option);
</script>
</body>
</html>
